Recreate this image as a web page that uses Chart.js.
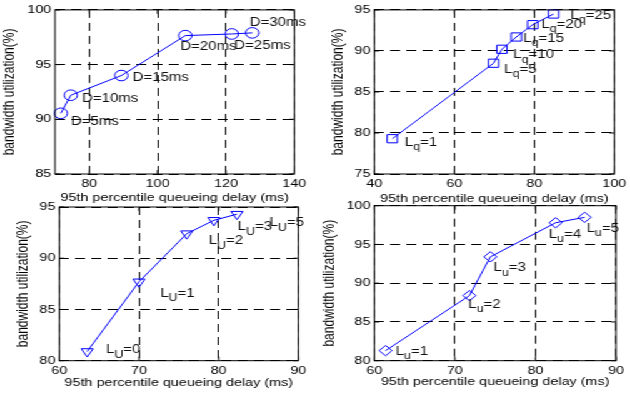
<!DOCTYPE html>
<html>
<head>
<meta charset="utf-8">
<script src="https://cdn.jsdelivr.net/npm/chart.js@4/dist/chart.umd.min.js"></script>
<style>
  html, body { margin: 0; padding: 0; background: #fff; }
  /* the reference is stretched sideways, so the whole sheet is drawn narrow and widened */
  #sheet { position: relative; width: 504px; height: 394px; transform: scale(1.25, 1); transform-origin: 0 0; }
  #sheet canvas { position: absolute; }
</style>
</head>
<body>
<div id="sheet">
  <canvas id="c1" width="248" height="206" style="left:0;top:0"></canvas>
  <canvas id="c2" width="248" height="206" style="left:256px;top:0"></canvas>
  <canvas id="c3" width="248" height="199" style="left:0;top:195px"></canvas>
  <canvas id="c4" width="248" height="199" style="left:256px;top:195px"></canvas>
</div>
<script>
// ---- data ----
// top left: buffer delay D
const delayD = [71.7, 74.6, 89.4, 108.1, 121.7, 127.7];
const utilD = [90.55, 92.2, 94.0, 97.65, 97.8, 97.9];
const dValues = [5, 10, 15, 20, 25, 30];
const xTicks1 = [80, 100, 120, 140];
const yTicks1 = [85, 90, 95, 100];

// top right: Lq
const delayQ = [44.5, 69.8, 71.9, 75.5, 79.6, 84.8];
const utilQ = [79.3, 88.5, 90.2, 91.7, 93.2, 94.5];
const qValues = [1, 5, 10, 15, 20, 25];
const xTicks2 = [40, 60, 80, 100];
const yTicks2 = [75, 80, 85, 90, 95];

// bottom left: L_U
const delayU = [63.5, 70.0, 76.0, 79.4, 82.3];
const utilU = [80.9, 87.7, 92.4, 93.7, 94.3];
const uValues = [0, 1, 2, 3, 5];
const xTicks3 = [60, 70, 80, 90];
const yTicks3 = [80, 85, 90, 95];

// bottom right: L_u
const delayL = [61.4, 71.8, 74.4, 82.5, 86.1];
const utilL = [81.3, 88.4, 93.4, 97.8, 98.5];
const lValues = [1, 2, 3, 4, 5];
const xTicks4 = [60, 70, 80, 90];
const yTicks4 = [80, 85, 90, 95, 100];

const xTitle = '95th percentile queueing delay (ms)';
const yTitle = 'bandwidth utilization(%)';
const BLUE = '#0000ff';
const FONT = '"Liberation Sans", Arial, Helvetica, sans-serif';

// label placement, px from the point (unstretched units)
const offs1 = [[8, 8], [9, 3], [9, 2], [-4, 11], [2, 12], [-2, -10]];
const offs2 = [[10, 4], [8.5, 6.5], [9, 5.5], [5.5, 1.5], [7, 0], [13.5, 1.5]];
const offs3 = [[15, -1.5], [17, 11.5], [17.5, 7.5], [19, 6.5], [26, 9]];
const offs4 = [[8, 1], [-1, 9], [2.5, 11], [-5.5, 11.5], [1.5, 11]];

// draws the frame with inward ticks like matlab
const boxPlugin = {
  id: 'box',
  afterDraw(chart) {
    const ctx = chart.ctx, a = chart.chartArea;
    const sx = chart.scales.x, sy = chart.scales.y;
    ctx.save();
    ctx.strokeStyle = '#000';
    ctx.lineWidth = 1;
    ctx.strokeRect(a.left, a.top, a.right - a.left, a.bottom - a.top);
    ctx.beginPath();
    sx.ticks.forEach(t => {
      const px = sx.getPixelForValue(t.value);
      ctx.moveTo(px, a.bottom); ctx.lineTo(px, a.bottom - 4);
      ctx.moveTo(px, a.top); ctx.lineTo(px, a.top + 4);
    });
    sy.ticks.forEach(t => {
      const py = sy.getPixelForValue(t.value);
      ctx.moveTo(a.left, py); ctx.lineTo(a.left + 4, py);
      ctx.moveTo(a.right, py); ctx.lineTo(a.right - 4, py);
    });
    ctx.stroke();
    ctx.restore();
  }
};

// text next to each marker, with an optional subscript
const labelPlugin = {
  id: 'ptLabels',
  afterDatasetsDraw(chart, args, opts) {
    if (!opts.items) return;
    const ctx = chart.ctx;
    const pts = chart.getDatasetMeta(0).data;
    ctx.save();
    ctx.fillStyle = '#111';
    ctx.textBaseline = 'middle';
    ctx.textAlign = 'left';
    opts.items.forEach((it, i) => {
      let x = pts[i].x + opts.offsets[i][0];
      const y = pts[i].y + opts.offsets[i][1];
      ctx.font = '12px ' + FONT;
      ctx.fillText(it[0], x, y);
      x += ctx.measureText(it[0]).width;
      if (it[1]) {
        ctx.font = '10px ' + FONT;
        ctx.fillText(it[1], x, y + 5);
        x += ctx.measureText(it[1]).width;
        ctx.font = '12px ' + FONT;
        ctx.fillText(it[2], x, y);
      }
    });
    ctx.restore();
  }
};

function makeChart(id, c) {
  const tickFont = { family: FONT, size: 11.5 };
  const axis = (min, max, ticks, extra) => Object.assign({
    type: 'linear',
    min: min,
    max: max,
    afterBuildTicks: s => { s.ticks = ticks.map(v => ({ value: v })); },
    grid: { color: '#000', lineWidth: 1, drawTicks: false },
    border: { display: false, dash: [8, 5] },
    ticks: { padding: 3, color: '#000', font: tickFont, maxRotation: 0 }
  }, extra);

  return new Chart(document.getElementById(id), {
    type: 'scatter',
    data: {
      datasets: [{
        data: c.xs.map((x, i) => ({ x: x, y: c.ys[i] })),
        showLine: true,
        borderColor: BLUE,
        borderWidth: 1,
        pointStyle: c.marker,
        pointRadius: c.radius,
        pointRotation: c.rotation || 0,
        pointBorderColor: BLUE,
        pointBackgroundColor: 'rgba(0,0,0,0)',
        pointBorderWidth: 1,
        clip: false
      }]
    },
    options: {
      responsive: false,
      animation: false,
      events: [],
      layout: { padding: c.pad },
      plugins: {
        legend: { display: false },
        tooltip: { enabled: false },
        ptLabels: { items: c.labels, offsets: c.offsets }
      },
      scales: {
        x: axis(c.xMin, c.xMax, c.xTicks, {
          afterFit: s => { s.height = c.xH; },
          title: { display: true, text: xTitle, color: '#000', font: { family: FONT, size: 11.5 }, padding: { top: 0, bottom: c.xTitlePad } }
        }),
        y: axis(c.yMin, c.yMax, c.yTicks, {
          afterFit: s => { s.width = c.yW; },
          title: { display: true, text: yTitle, color: '#000', font: { family: FONT, size: 12 }, padding: { top: 0, bottom: 0 } }
        })
      }
    },
    plugins: [boxPlugin, labelPlugin]
  });
}

makeChart('c1', {
  xs: delayD, ys: utilD, marker: 'circle', radius: 5.3,
  xMin: 70, xMax: 140, yMin: 85, yMax: 100, xTicks: xTicks1, yTicks: yTicks1,
  pad: { left: 0.8, top: 6, right: 9.6, bottom: 0 }, yW: 43.2, xH: 32, xTitlePad: 1.1,
  labels: dValues.map(d => ['D=' + d + 'ms']), offsets: offs1
});

makeChart('c2', {
  xs: delayQ, ys: utilQ, marker: 'rect', radius: 5.8,
  xMin: 40, xMax: 100, yMin: 75, yMax: 95, xTicks: xTicks2, yTicks: yTicks2,
  pad: { left: 7.2, top: 6, right: 11.2, bottom: 0 }, yW: 36.2, xH: 32, xTitlePad: 0,
  labels: qValues.map(q => ['L', 'q', '=' + q]), offsets: offs2
});

makeChart('c3', {
  xs: delayU, ys: utilU, marker: 'triangle', radius: 5.5, rotation: 180,
  xMin: 60, xMax: 90, yMin: 80, yMax: 95, xTicks: xTicks3, yTicks: yTicks3,
  pad: { left: 11.6, top: 12, right: 5.8, bottom: 0 }, yW: 35.8, xH: 33.3, xTitlePad: 3.8,
  labels: uValues.map(u => ['L', 'U', '=' + u]), offsets: offs3
});

makeChart('c4', {
  xs: delayL, ys: utilL, marker: 'rectRot', radius: 5.2,
  xMin: 60, xMax: 90, yMin: 80, yMax: 100, xTicks: xTicks4, yTicks: yTicks4,
  pad: { left: 0.4, top: 10.7, right: 11.2, bottom: 0 }, yW: 43, xH: 33.3, xTitlePad: 5.4,
  labels: lValues.map(l => ['L', 'u', '=' + l]), offsets: offs4
});
</script>
</body>
</html>
